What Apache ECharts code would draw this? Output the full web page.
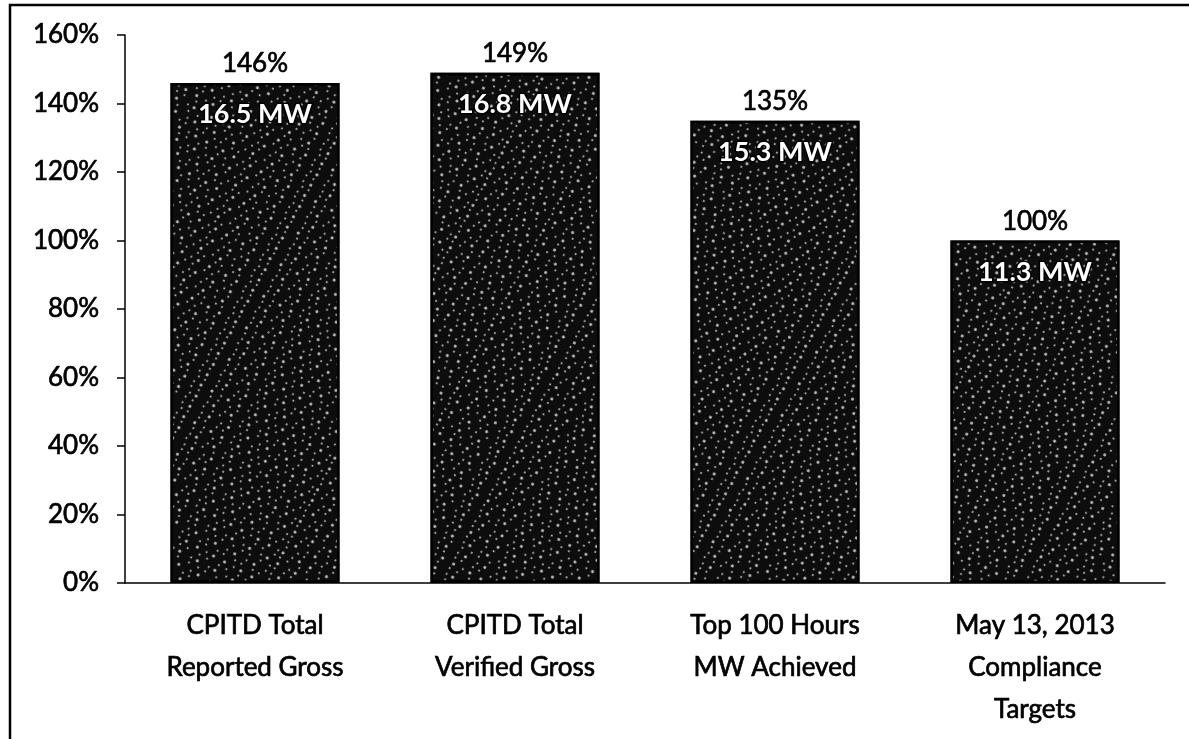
<!DOCTYPE html>
<html>
<head>
<meta charset="utf-8">
<script src="https://cdn.jsdelivr.net/npm/echarts@6/dist/echarts.min.js"></script>
<style>
  html, body { margin: 0; padding: 0; background: #fff; }
  #chart { width: 1189px; height: 739px; }
</style>
</head>
<body>
<div id="chart"></div>
<script>
// categories and values
var categories = [
  'CPITD Total\nReported Gross',
  'CPITD Total\nVerified Gross',
  'Top 100 Hours\nMW Achieved',
  'May 13, 2013\nCompliance\nTargets'
]
var pctValues = [146, 149, 135, 100]
var mwValues = [16.5, 16.8, 15.3, 11.3]

var font = 'Lato, "Open Sans", sans-serif'
// thin outline in the text colour, to get the heavier look of the scan
var heavy = { textBorderColor: '#000', textBorderWidth: 0.7 }
var chart = echarts.init(document.getElementById('chart'), null, { renderer: 'canvas' })

chart.setOption({
  backgroundColor: '#fff',
  animation: false,
  textStyle: { fontFamily: font },
  grid: { left: 125, right: 24, top: 35, bottom: 156 },
  // frame round the chart (only top and left edges fall inside the picture)
  graphic: [{
    type: 'rect',
    shape: { x: 10, y: 5, width: 1250, height: 800 },
    style: { fill: 'none', stroke: '#000', lineWidth: 2.5 },
    silent: true
  }],
  xAxis: {
    type: 'category',
    data: categories,
    axisLine: { lineStyle: { color: '#000', width: 1.5 } },
    axisTick: { length: 9, lineStyle: { color: '#000', width: 1.5 } },
    axisLabel: Object.assign({
      color: '#000',
      fontSize: 26,
      lineHeight: 42,
      margin: 22,
      interval: 0,
      fontFamily: font
    }, heavy)
  },
  yAxis: {
    type: 'value',
    min: 0,
    max: 160,
    interval: 20,
    splitLine: { show: false },
    axisLine: { show: true, lineStyle: { color: '#000', width: 1.5 } },
    axisTick: { show: true, length: 8, lineStyle: { color: '#000', width: 1.5 } },
    axisLabel: Object.assign({
      color: '#000',
      fontSize: 26,
      margin: 26,
      formatter: '{value}%',
      fontFamily: font
    }, heavy)
  },
  series: [
    {
      type: 'bar',
      data: pctValues,
      barWidth: '65%',
      itemStyle: {
        color: '#0d0d0d',
        borderColor: '#000',
        borderWidth: 2.5,
        decal: {
          symbol: 'circle',
          symbolSize: 1,
          color: 'rgba(240,240,240,0.8)',
          dashArrayX: [[3, 8, 2, 5, 4, 9], [2, 6, 3, 11], [4, 10, 2, 4]],
          dashArrayY: [3, 3, 2, 4],
          rotation: 0.5
        }
      },
      label: Object.assign({
        show: true,
        position: 'top',
        distance: 6,
        color: '#000',
        fontSize: 26,
        fontFamily: font,
        formatter: '{c}%'
      }, heavy)
    },
    {
      // transparent twin of the bars, only to carry the MW label
      type: 'bar',
      data: pctValues,
      barWidth: '65%',
      barGap: '-100%',
      itemStyle: { color: 'rgba(0,0,0,0)' },
      label: {
        show: true,
        position: 'insideTop',
        distance: 18,
        color: '#fff',
        fontSize: 27,
        fontWeight: 'bold',
        fontFamily: font,
        textBorderColor: '#000',
        textBorderWidth: 3,
        formatter: function (p) { return mwValues[p.dataIndex] + ' MW' }
      }
    }
  ]
})
</script>
</body>
</html>
